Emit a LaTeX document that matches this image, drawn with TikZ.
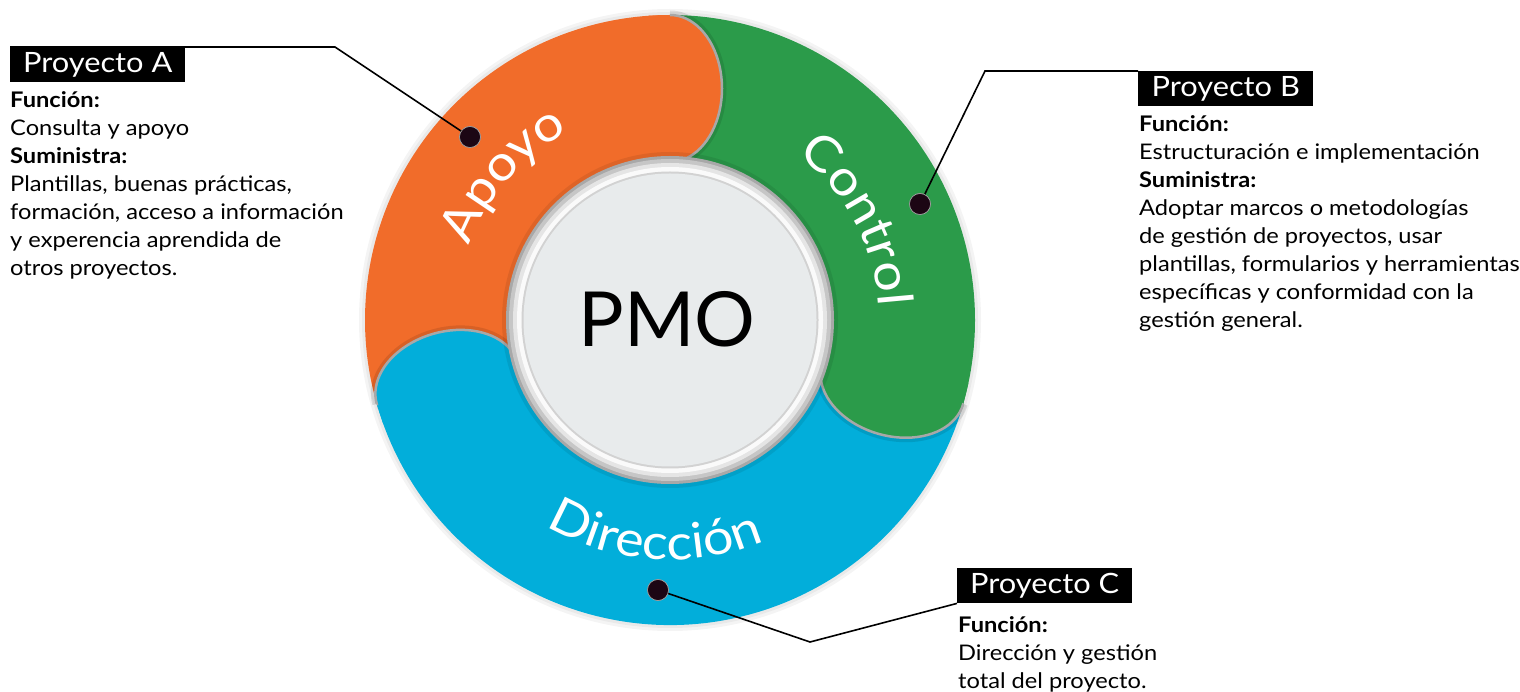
\documentclass[tikz,border=0pt]{standalone}
\usepackage{fontspec}
\setmainfont{Lato}[FakeStretch=1.1]
\newfontfamily\pmofont{Lato}
\usetikzlibrary{decorations.text}
\definecolor{orng}{HTML}{F16C2A}
\definecolor{grn}{HTML}{2B9B4A}
\definecolor{blu}{HTML}{02AEDA}
\definecolor{capgray}{HTML}{A8A8A8}
\definecolor{disc}{HTML}{E8EBEC}
\definecolor{dotc}{HTML}{1C0614}
\def\Ro{305}\def\Ri{158}\def\Rm{231.5}\def\hw{73.5}\def\bb{52}
\newcommand\capline[1]{-- plot[domain=0:180, samples=41, variable=\t]
  ({\Rm*cos(#1)+\hw*cos(\t)*cos(#1)+\bb*sin(\t)*sin(#1)},
   {\Rm*sin(#1)+\hw*cos(\t)*sin(#1)-\bb*sin(\t)*cos(#1)})}
\newcommand\segbody[3]{\fill[#1] (#2:\Ro) arc[start angle=#2, end angle=#3, radius=\Ro]
  -- (#3:\Ri) arc[start angle=#3, end angle=#2, radius=\Ri] -- cycle;}
\newcommand\segcap[2]{%
  \draw[black, opacity=0.10, line width=9] (#2:\Ro) \capline{#2};
  \fill[#1] (#2:\Ro) \capline{#2} -- (#2+4:\Ri) -- (#2+4:\Ro) -- cycle;
  \draw[capgray, line width=2.5] (#2:\Ro) \capline{#2};}
\newcommand\seglabel{\fontsize{49}{52}\selectfont\color{white}}
\tikzset{
  pbox/.style={fill=black, text=white, font=\fontsize{28}{30}\selectfont,
    minimum width=175, minimum height=35, inner sep=0, anchor=north west},
  info/.style={anchor=north west, align=left, inner sep=0,
    font=\fontsize{21.5}{28}\selectfont},
  lead/.style={line width=1.6, black},
  pin/.style={circle, fill=dotc, draw=gray!70, line width=0.6, minimum size=21, inner sep=0}
}
\begin{document}
\begin{tikzpicture}[x=1pt,y=1pt]
\useasboundingbox (0,0) rectangle (1520,691);
\begin{scope}[shift={(670,371)}]
  % outer soft shadow
  \foreach \r in {311,308}{\fill[black, opacity=0.045] (0,0) circle (\r);}
  % bodies
  \segbody{orng}{196}{90}
  \segbody{grn}{90}{-16}
  \segbody{blu}{-16}{-164}
  % caps
  \segcap{orng}{90}
  \segcap{grn}{-16}
  \segcap{blu}{196}
  % central disc
  \fill[black, opacity=0.08] (0,0) circle (168);
  \fill[capgray] (0,0) circle (164);
  \fill[gray!45] (0,0) circle (161);
  \fill[gray!20] (0,0) circle (157);
  \fill[white!96!gray] (0,0) circle (153);
  \fill[gray!35] (0,0) circle (148.5);
  \fill[disc] (0,0) circle (146.5);
  \node (pmo) [font=\pmofont\fontsize{76}{80}\selectfont] at (-3,1) {PMO};
  % segment labels
  \path[decorate, decoration={text along path, text={|\seglabel|Apoyo}, text align=center}]
    (178:214) arc[start angle=178, end angle=100, radius=214];
  \path[decorate, decoration={text along path, text={|\seglabel|Control}, text align=center}]
    (67:209) arc[start angle=67, end angle=-11, radius=209];
  \path[decorate, decoration={text along path, text={|\seglabel|Dirección}, text align=center}]
    (-140:240) arc[start angle=-140, end angle=-48, radius=240];
\end{scope}

% callout A
\node[pbox] (pa) at (10,644) {Proyecto A};
\coordinate (ka) at (335,644);
\node[pin] (da) at (470,554) {};
\node[info] (ta) at (10,600) {\textbf{Función:}\\Consulta y apoyo\\\textbf{Suministra:}\\Plantillas, buenas prácticas,\\formación, acceso a información\\y experencia aprendida de\\otros proyectos.};
\draw[lead] (pa.north west) -- (ka) -- (da.center);
\node[pin] at (da) {};

% callout B
\node[pbox] (pb) at (1138,620) {Proyecto B};
\coordinate (kb) at (985,620);
\node[pin] (db) at (920,487) {};
\node[info] (tb) at (1139,576) {\textbf{Función:}\\Estructuración e implementación\\\textbf{Suministra:}\\Adoptar marcos o metodologías\\de gestión de proyectos, usar\\plantillas, formularios y herramientas\\específicas y conformidad con la\\gestión general.};
\draw[lead] (db.center) -- (kb) -- (pb.north west);
\node[pin] at (db) {};

% callout C
\node[pbox] (pc) at (957,123) {Proyecto C};
\coordinate (kc) at (810,49);
\node[pin] (dc) at (658,101) {};
\node[info] (tc) at (958,75) {\textbf{Función:}\\Dirección y gestión\\total del proyecto.};
\draw[lead] (dc.center) -- (kc) -- (pc.south west);
\node[pin] at (dc) {};
\end{tikzpicture}
\end{document}
